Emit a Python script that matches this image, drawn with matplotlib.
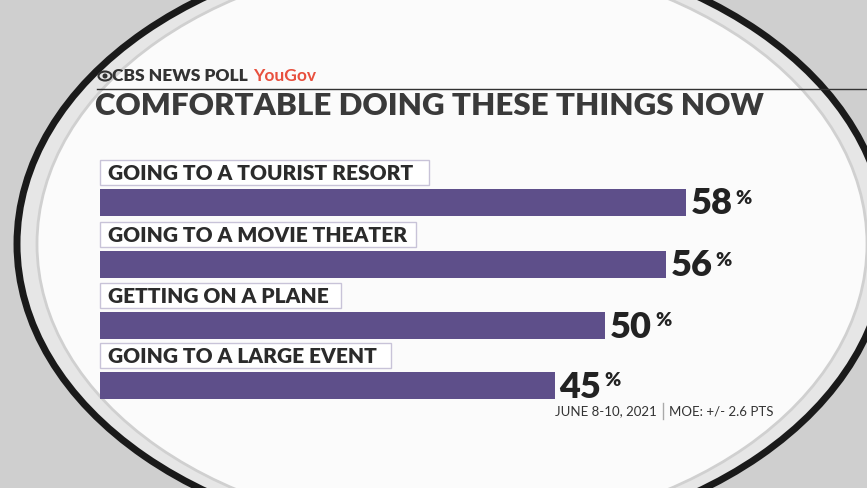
import matplotlib.pyplot as plt
from matplotlib.patches import Ellipse, Rectangle

categories = ["GOING TO A TOURIST RESORT", "GOING TO A MOVIE THEATER",
              "GETTING ON A PLANE", "GOING TO A LARGE EVENT"]
values = [58, 56, 50, 45]

fig = plt.figure(figsize=(8.67, 4.88), dpi=100)
fig.patch.set_facecolor("#cfcfcf")
ax = fig.add_axes([0, 0, 1, 1])
ax.set_xlim(0, 867)
ax.set_ylim(488, 0)
ax.axis("off")

# background ring
ax.add_patch(Ellipse((452, 244), 870, 600, facecolor="#e6e6e6", edgecolor="#1a1a1a", lw=5))
ax.add_patch(Ellipse((452, 244), 830, 575, facecolor="#fbfbfb", edgecolor="#d0d0d0", lw=2))

scale = 10.1
bar_y = [202, 264, 325, 385]
bar_h = 27
ax.barh(bar_y, [v * scale for v in values], left=100, height=bar_h, color="#5e4f8a")
for y, cat, v in zip(bar_y, categories, values):
    ax.add_patch(Rectangle((100, y - 42), len(cat) * 12.5 + 16, 25, facecolor="white",
                           edgecolor="#c8c3d8", lw=1))
    ax.text(108, y - 28.5, cat, fontsize=15, fontweight="black", color="#2b2b2b",
            va="center", family="Lato")
    ax.text(100 + v * scale + 5, y + 2, str(v), fontsize=26, fontweight="black",
            color="#222222", va="center", family="Lato")
    ax.text(100 + v * scale + 50, y - 4, "%", fontsize=14, fontweight="black",
            color="#222222", va="center", family="Lato")

ax.add_patch(Ellipse((105, 76), 13, 9, facecolor="none", edgecolor="#333333", lw=1.5))
ax.add_patch(Ellipse((105, 76), 5, 5, facecolor="#333333"))
ax.text(112, 76, "CBS NEWS POLL", fontsize=12.5, fontweight="black", color="#333333",
        va="center", family="Lato")
ax.text(253, 76, "YouGov", fontsize=12.5, fontweight="bold", color="#e8503e",
        va="center", family="Lato")
ax.plot([97, 867], [89, 89], color="#333333", lw=1)
ax.text(95, 106, "COMFORTABLE DOING THESE THINGS NOW", fontsize=22.5, fontweight="black",
        color="#3a3a3a", va="center", family="Lato")
ax.text(657, 411, "JUNE 8-10, 2021", fontsize=9.5, color="#333333", va="center",
        ha="right", family="Lato")
ax.plot([663, 663], [403, 419], color="#aaaaaa", lw=1)
ax.text(669, 411, "MOE: +/- 2.6 PTS", fontsize=9.5, color="#333333", va="center",
        family="Lato")

fig.savefig("out.png", dpi=100)
